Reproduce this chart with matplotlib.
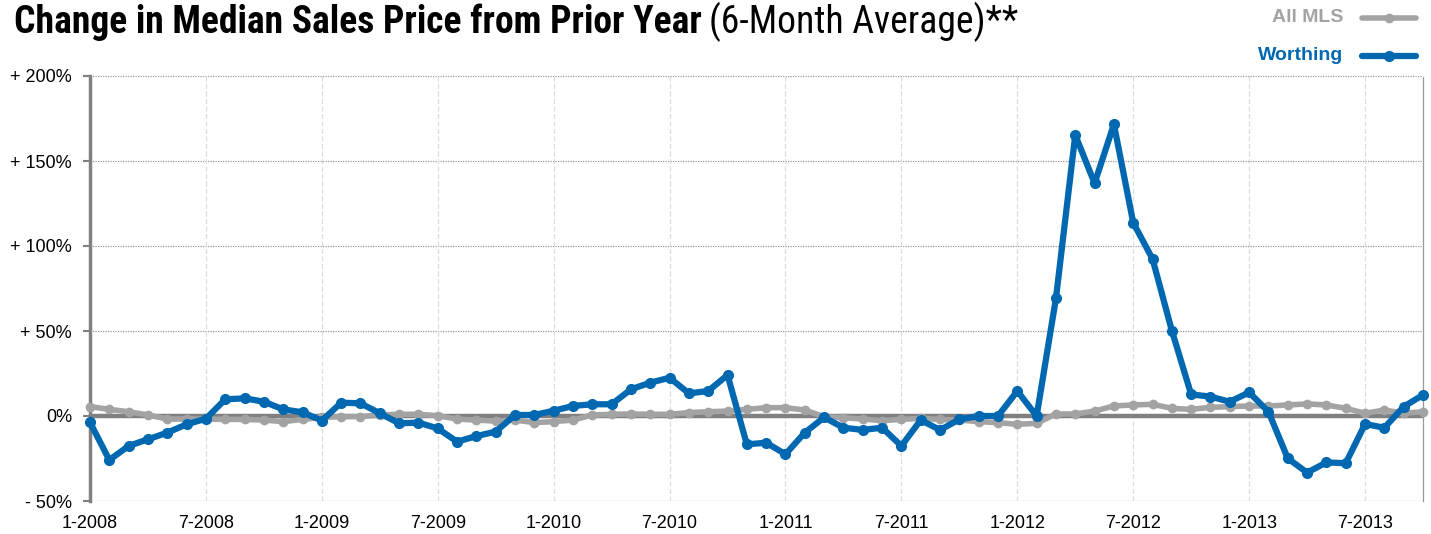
import numpy as np
import matplotlib
matplotlib.use('Agg')
import matplotlib.pyplot as plt
from matplotlib import font_manager

# monthly, 1-2008 .. 10-2013
worthing = [-3.7, -25.9, -17.6, -13.7, -9.8, -4.9, -1.6, 9.8, 10.4, 8.4, 3.9, 2.2,
            -2.7, 7.8, 7.5, 1.6, -4.3, -3.9, -7.3, -15.1, -11.8, -9.2, 0.6, 0.6,
            3.1, 5.9, 6.9, 6.9, 15.7, 19.6, 22.5, 13.3, 14.7, 24.1, -16.7, -15.7,
            -22.5, -9.8, -0.8, -6.9, -8.2, -6.9, -17.6, -2.4, -8.2, -2.0, 0.0, 0.0,
            14.7, 0.0, 69.2, 165.3, 136.9, 171.6, 113.7, 92.4, 50.2, 12.7, 11.4, 8.4,
            13.9, 2.5, -24.9, -33.3, -27.3, -27.8, -4.7, -6.9, 5.5, 12.4]
all_mls = [5.5, 3.9, 2.5, 0.6, -1.8, -1.8, -1.8, -2.0, -2.0, -2.4, -3.3, -2.0,
           -0.8, -0.4, -0.4, 0.6, 1.0, 1.0, 0.2, -1.8, -2.4, -3.0, -2.4, -3.9,
           -3.3, -2.4, 0.6, 1.0, 1.2, 1.0, 1.0, 2.0, 2.5, 2.9, 3.9, 4.9,
           4.9, 3.5, -0.4, -1.0, -1.8, -2.7, -2.0, -1.4, -2.0, -2.4, -3.3, -3.9,
           -4.9, -4.3, 1.2, 1.2, 2.9, 5.9, 6.5, 6.9, 4.5, 3.9, 5.1, 5.5,
           5.9, 5.9, 6.5, 7.1, 6.5, 4.5, 1.6, 3.5, 1.6, 2.5]
x_labels = ['1-2008', '7-2008', '1-2009', '7-2009', '1-2010', '7-2010',
            '1-2011', '7-2011', '1-2012', '7-2012', '1-2013', '7-2013']
y_ticks = [-50, 0, 50, 100, 150, 200]
y_labels = ['- 50%', '0%', '+ 50%', '+ 100%', '+ 150%', '+ 200%']

BLUE = '#0068b1'
GRAY = '#a3a3a3'
AXIS = '#808080'

names = {f.name for f in font_manager.fontManager.ttflist}
cond = 'Liberation Sans'
for cand in ['Roboto Condensed', 'Liberation Sans Narrow', 'DejaVu Sans Condensed',
             'Open Sans Condensed']:
    if cand in names:
        cond = cand
        break
plt.rcParams['font.family'] = ['Liberation Sans', 'DejaVu Sans']

fig = plt.figure(figsize=(14.31, 5.34), dpi=100)
ax = fig.add_axes([90 / 1431, 33 / 534, 1333 / 1431, 425 / 534])

x = np.arange(len(worthing))
ax.axhline(0, color=AXIS, lw=3.2, zorder=2)
ax.plot(x, all_mls, color=GRAY, lw=4, marker='o', ms=6, zorder=3, clip_on=False)
ax.plot(x, worthing, color=BLUE, lw=4.5, marker='o', ms=7, zorder=4, clip_on=False)

ax.set_xlim(0, len(worthing) - 1)
ax.set_ylim(-50, 200)
ax.set_yticks(y_ticks)
ax.set_yticklabels(y_labels, fontsize=13)
ax.set_xticks(np.arange(0, len(worthing), 6))
ax.set_xticklabels(x_labels, fontsize=13)

for y in y_ticks:
    if y != 0:
        ax.axhline(y, color='#999999', lw=0.9, ls=(0, (1, 1)), zorder=1)
for xv in np.arange(6, len(worthing), 6):
    ax.axvline(xv, color='#dddddd', lw=0.9, ls=(0, (4, 2)), zorder=1)

for s in ['top', 'bottom']:
    ax.spines[s].set_visible(False)
ax.spines['right'].set_color('#999999')
ax.spines['right'].set_linestyle((0, (1, 1)))
ax.spines['right'].set_linewidth(0.9)
ax.spines['left'].set_color(AXIS)
ax.spines['left'].set_linewidth(2.5)
ax.tick_params(axis='y', length=5, width=1.5, color=AXIS, pad=8)
ax.tick_params(axis='x', length=0, pad=10)

# title, sized so the whole line spans ~14..1023 px like the original
ty = 1 - 22 / 534
t1 = fig.text(14 / 1431, ty, 'Change in Median Sales Price from Prior Year',
              fontsize=26, fontweight='bold', family=[cond, 'DejaVu Sans'], va='center')
t2 = fig.text(0, ty, '(6-Month Average)**', fontsize=26,
              family=[cond, 'DejaVu Sans'], va='center')
for _ in range(3):
    fig.canvas.draw()
    b1 = t1.get_window_extent()
    t2.set_x(b1.x1 / 1431 + 0.005)
    fig.canvas.draw()
    b2 = t2.get_window_extent()
    scale = (1023 - 14) / (b2.x1 - b1.x0)
    fs = t1.get_fontsize() * scale
    t1.set_fontsize(fs)
    t2.set_fontsize(fs)
fig.canvas.draw()
t2.set_x(t1.get_window_extent().x1 / 1431 + 0.005)

# legend
for ly, label, col, lw, ms in [(18, 'All MLS', GRAY, 4, 6), (56, 'Worthing', BLUE, 4.5, 7)]:
    yf = 1 - ly / 534
    fig.text(1343 / 1431, yf, label, color=col, fontsize=14, fontweight='bold',
             ha='right', va='center')
    fig.add_artist(plt.Line2D([1362 / 1431, 1416 / 1431], [yf, yf], color=col, lw=lw,
                              solid_capstyle='round', transform=fig.transFigure))
    fig.add_artist(plt.Line2D([1389 / 1431], [yf], color=col, marker='o', ms=ms,
                              transform=fig.transFigure))

fig.savefig('out.png', dpi=100)
